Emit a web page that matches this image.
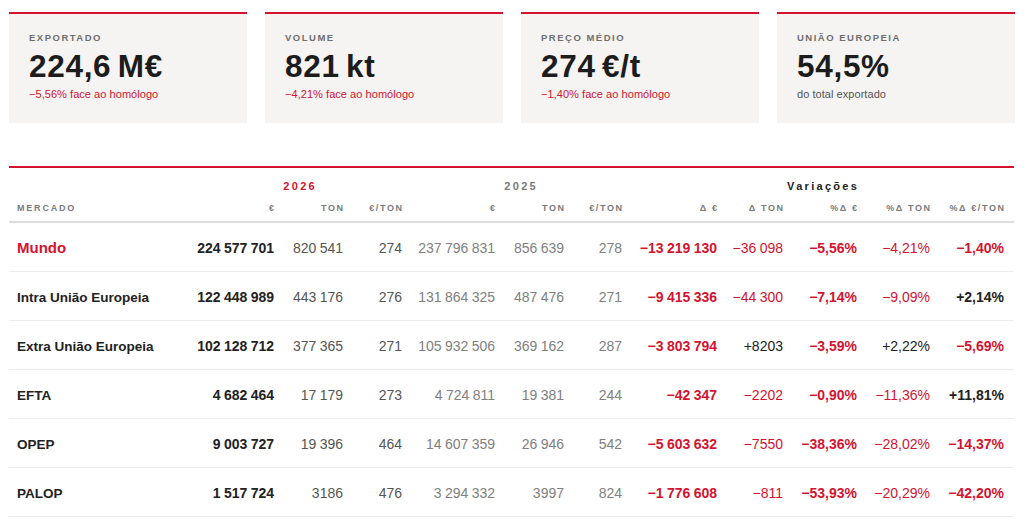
<!DOCTYPE html>
<html lang="pt">
<head>
<meta charset="utf-8">
<script src="https://cdn.jsdelivr.net/npm/chart.js@4"></script>
<style>
  html, body { margin: 0; padding: 0; background: #ffffff; }
  body { width: 1024px; height: 521px; position: relative; overflow: hidden;
         font-family: "Liberation Sans", Arial, sans-serif; color: #222; }
  .t { position: absolute; white-space: nowrap; }
  .box { position: absolute; }
</style>
</head>
<body>
<div id="root"></div>
<script>
// ---------- DATA ----------
const kpiLabels = ["EXPORTADO", "VOLUME", "PREÇO MÉDIO", "UNIÃO EUROPEIA"];
const kpiValues = ["224,6 M€", "821 kt", "274 €/t", "54,5%"];
const kpiSubs = ["−5,56% face ao homólogo", "−4,21% face ao homólogo", "−1,40% face ao homólogo", "do total exportado"];
const kpiSubNegative = [true, true, true, false];

const groupLabels = ["2026", "2025", "Variações"];
const columnHeaders = ["€", "TON", "€/TON", "€", "TON", "€/TON", "Δ €", "Δ TON", "%Δ €", "%Δ TON", "%Δ €/TON"];

const markets = ["Mundo", "Intra União Europeia", "Extra União Europeia", "EFTA", "OPEP", "PALOP"];
const eur2026 = [224577701, 122448989, 102128712, 4682464, 9003727, 1517724];
const ton2026 = [820541, 443176, 377365, 17179, 19396, 3186];
const eurTon2026 = [274, 276, 271, 273, 464, 476];
const eur2025 = [237796831, 131864325, 105932506, 4724811, 14607359, 3294332];
const ton2025 = [856639, 487476, 369162, 19381, 26946, 3997];
const eurTon2025 = [278, 271, 287, 244, 542, 824];
const deltaEur = [-13219130, -9415336, -3803794, -42347, -5603632, -1776608];
const deltaTon = [-36098, -44300, 8203, -2202, -7550, -811];
const pctEur = [-5.56, -7.14, -3.59, -0.90, -38.36, -53.93];
const pctTon = [-4.21, -9.09, 2.22, -11.36, -28.02, -20.29];
const pctEurTon = [-1.40, 2.14, -5.69, 11.81, -14.37, -42.20];

// ---------- STYLE ----------
const RED = "#d3132f";
const CARD_BG = "#f5f4f2";
const ASC = 0.8465; // baseline offset for line-height = 1em (Liberation Sans)

const root = document.getElementById("root");

function txt(str, opts) {
  const d = document.createElement("div");
  d.className = "t";
  const fs = opts.fs;
  d.textContent = str;
  d.style.fontSize = fs + "px";
  d.style.lineHeight = fs + "px";
  d.style.top = (opts.base - ASC * fs) + "px";
  d.style.fontWeight = opts.bold ? "700" : "400";
  d.style.color = opts.color || "#222";
  const ls = opts.ls || 0;
  if (ls) d.style.letterSpacing = ls + "px";
  if (opts.ws !== undefined) d.style.wordSpacing = opts.ws + "px";
  if (opts.align === "right") {
    d.style.right = (1024 - opts.x - ls) + "px";
  } else if (opts.align === "center") {
    d.style.left = opts.x + "px";
    d.style.transform = "translateX(-50%)";
    d.style.paddingLeft = ls + "px";
  } else {
    d.style.left = opts.x + "px";
  }
  root.appendChild(d);
  return d;
}
function rect(x, y, w, h, bg) {
  const d = document.createElement("div");
  d.className = "box";
  d.style.left = x + "px"; d.style.top = y + "px";
  d.style.width = w + "px"; d.style.height = h + "px";
  d.style.background = bg;
  root.appendChild(d);
}

function fmtInt(v, signed) {
  const neg = v < 0;
  const a = Math.abs(v);
  let s = String(a);
  if (s.length >= 5) s = s.replace(/\B(?=(\d{3})+(?!\d))/g, " ");
  if (neg) return "−" + s;
  return (signed ? "+" : "") + s;
}
function fmtPct(v) {
  const s = Math.abs(v).toFixed(2).replace(".", ",") + "%";
  return (v < 0 ? "−" : "+") + s;
}

// ---------- KPI CARDS ----------
const cardX = [9, 265, 521, 777];
kpiLabels.forEach((lab, i) => {
  const x = cardX[i];
  rect(x, 12, 238, 2, RED);
  rect(x, 14, 238, 109, CARD_BG);
  txt(lab, { x: x + 20, base: 41, fs: 9.5, ls: 1.5, bold: true, color: "#6e6e6e" });
  txt(kpiValues[i], { x: x + 20, base: 77.5, fs: 31.5, bold: true, color: "#1c1c1c", ls: 0.7, ws: -3 });
  txt(kpiSubs[i], { x: x + 20, base: 98.5, fs: 11, color: kpiSubNegative[i] ? RED : "#555", ls: 0.05 });
});

// ---------- TABLE ----------
rect(9, 166, 1005, 2, RED);
const groupCenters = [299, 520, 822];
const groupColors = [RED, "#7a7a7a", "#222"];
groupLabels.forEach((g, i) => {
  txt(g, { x: groupCenters[i], base: 190, fs: 11, bold: true, ls: 2.3, align: "center", color: groupColors[i] });
});

const colRight = [274, 343, 402, 495, 564, 622, 717, 783, 857, 930, 1004];
txt("MERCADO", { x: 17, base: 212, fs: 9, bold: true, ls: 1.8, color: "#7a7a7a" });
columnHeaders.forEach((h, i) => {
  txt(h, { x: colRight[i], base: 212, fs: 9, bold: true, ls: 1.6, align: "right", color: "#7a7a7a" });
});
rect(9, 221, 1005, 2, "#dddddd");

const rowTop = 223, rowH = 49;
markets.forEach((m, r) => {
  const base = rowTop + r * rowH + 30;
  if (r === 0) txt(m, { x: 17, base, fs: 15, bold: true, color: RED });
  else txt(m, { x: 17, base, fs: 13.5, bold: true, color: "#222" });

  const sc = (v) => v < 0 ? RED : "#222";
  const cells = [
    [fmtInt(eur2026[r]), true, "#222"],
    [fmtInt(ton2026[r]), false, "#555"],
    [fmtInt(eurTon2026[r]), false, "#555"],
    [fmtInt(eur2025[r]), false, "#808080"],
    [fmtInt(ton2025[r]), false, "#808080"],
    [fmtInt(eurTon2025[r]), false, "#808080"],
    [fmtInt(deltaEur[r], true), true, sc(deltaEur[r])],
    [fmtInt(deltaTon[r], true), false, sc(deltaTon[r])],
    [fmtPct(pctEur[r]), true, sc(pctEur[r])],
    [fmtPct(pctTon[r]), false, sc(pctTon[r])],
    [fmtPct(pctEurTon[r]), true, sc(pctEurTon[r])]
  ];
  cells.forEach((c, i) => {
    txt(c[0], { x: colRight[i], base, fs: 14, bold: c[1], color: c[2], align: "right", ws: -0.5 });
  });
  rect(9, rowTop + (r + 1) * rowH - 1, 1005, 1, "#ececec");
});
</script>
</body>
</html>
